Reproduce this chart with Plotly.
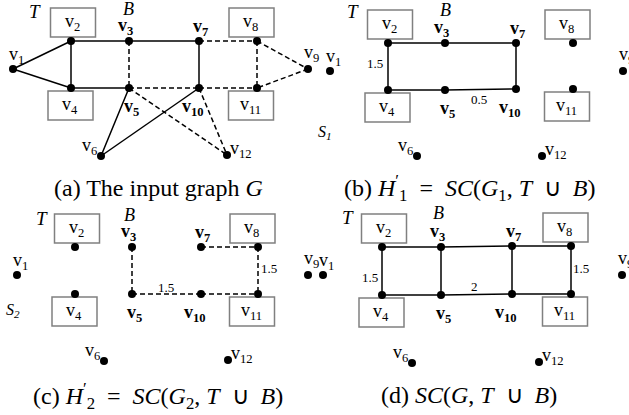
import plotly.graph_objects as go

# ---------------- data ----------------
NODES = ['v1', 'v2', 'v3', 'v4', 'v5', 'v6', 'v7', 'v8', 'v9', 'v10', 'v11', 'v12']
BOLD_NODES = ['v3', 'v5', 'v7', 'v10']
BOXED_TOP = ['v2', 'v8']
BOXED_BOTTOM = ['v4', 'v11']

# (a) input graph G
A_X = [13, 71, 129, 71, 129, 101, 199, 257, 308, 199, 257, 227]
A_Y = [69, 41, 41, 88, 88, 156, 41, 41, 69, 88, 88, 155]
A_SOLID = [('v1', 'v2'), ('v1', 'v4'), ('v2', 'v3'), ('v3', 'v7'), ('v2', 'v4'),
           ('v4', 'v5'), ('v7', 'v10'), ('v5', 'v6'), ('v6', 'v10')]
A_DASHED = [('v3', 'v5'), ('v5', 'v10'), ('v10', 'v11'), ('v7', 'v8'), ('v8', 'v11'),
            ('v8', 'v9'), ('v9', 'v11'), ('v5', 'v12'), ('v10', 'v12')]
A_WEIGHTS = []

# (b) H'_1
B_X = [330, 388, 445, 388, 445, 417, 516, 573, 623, 516, 573, 542]
B_Y = [71, 43, 43, 90, 90, 156, 43, 43, 71, 89, 89, 156]
B_SOLID = [('v2', 'v3'), ('v3', 'v7'), ('v2', 'v4'), ('v4', 'v5'), ('v5', 'v10'), ('v7', 'v10')]
B_DASHED = []
B_WEIGHTS = [('v2', 'v4', '1.5'), ('v5', 'v10', '0.5')]

# (c) H'_2
C_X = [17, 75, 132, 75, 132, 104, 201, 258, 308, 201, 258, 228]
C_Y = [275, 247, 247, 294, 294, 361, 247, 247, 275, 294, 294, 360]
C_SOLID = []
C_DASHED = [('v3', 'v5'), ('v5', 'v10'), ('v10', 'v11'), ('v7', 'v8'), ('v8', 'v11')]
C_WEIGHTS = [('v5', 'v10', '1.5'), ('v8', 'v11', '1.5')]

# (d) SC(G, T u B)
D_X = [323, 382, 441, 382, 441, 412, 512, 571, 622, 512, 571, 539]
D_Y = [275, 247, 247, 295, 295, 363, 246, 246, 275, 294, 294, 362]
D_SOLID = [('v2', 'v3'), ('v3', 'v7'), ('v7', 'v8'), ('v2', 'v4'), ('v3', 'v5'),
           ('v7', 'v10'), ('v8', 'v11'), ('v4', 'v5'), ('v5', 'v10'), ('v10', 'v11')]
D_DASHED = []
D_WEIGHTS = [('v2', 'v4', '1.5'), ('v5', 'v10', '2'), ('v8', 'v11', '1.5')]

EN = "\u2002"
TH = "\u2009"
CAPTIONS = [
    "(a) The input graph <i>G</i>",
    "(b) <i>H</i><sup>′</sup><sub>1</sub>" + EN + "=" + EN + "<i>SC</i>(<i>G</i><sub>1</sub>, <i>T</i>" + EN + "∪" + TH + " <i>B</i>)",
    "(c) <i>H</i><sup>′</sup><sub>2</sub>" + EN + "=" + EN + "<i>SC</i>(<i>G</i><sub>2</sub>, <i>T</i>" + EN + "∪" + TH + " <i>B</i>)",
    "(d) <i>SC</i>(<i>G</i>, <i>T</i>" + EN + "∪" + TH + " <i>B</i>)",
]
SET_LABELS = ["S<sub>1</sub>", "S<sub>2</sub>"]

# ---------------- styles / layout ----------------
W, H = 629, 415
FONT = "Liberation Serif, Times New Roman, serif"
LABEL_SIZE = 18
EDGE_W = 1.5
BOX_COLOR = "rgb(128,128,128)"

# label offsets (dx, dy) relative to node for unboxed nodes
LABEL_OFF = {'v1': (3, -14), 'v3': (-4, -15), 'v7': (1, -14), 'v9': (3, -16),
             'v5': (2, 19), 'v10': (-6, 19), 'v6': (-12, -10), 'v12': (14, -6)}
BOX_W, BOX_H = 45, 29
BOX_DX = {'v2': 2, 'v8': -5.5, 'v4': -0.5, 'v11': -6}

PANELS = [
    dict(x=A_X, y=A_Y, solid=A_SOLID, dashed=A_DASHED, weights=A_WEIGHTS,
         woff=[], T=(35, 11), B=(128, 9), S=None, cap=(158, 188)),
    dict(x=B_X, y=B_Y, solid=B_SOLID, dashed=B_DASHED, weights=B_WEIGHTS,
         woff=[(-13, -3), (-2, 10)], T=(353, 11), B=(445, 10), S=(325, 132), cap=(470, 188)),
    dict(x=C_X, y=C_Y, solid=C_SOLID, dashed=C_DASHED, weights=C_WEIGHTS,
         woff=[(-1, -7), (11, -2)], T=(42, 218), B=(129, 215), S=(13, 310), cap=(158, 396)),
    dict(x=D_X, y=D_Y, solid=D_SOLID, dashed=D_DASHED, weights=D_WEIGHTS,
         woff=[(-12, 6), (-2, -8), (10, -2)], T=(348, 217), B=(438, 213), S=None, cap=(469, 395)),
]

fig = go.Figure()
shapes = []
annotations = []


def ix(n):
    return NODES.index(n)


def node_text(n):
    t = "v<sub>%s</sub>" % n[1:]
    if n in BOLD_NODES:
        t = "<b>%s</b>" % t
    return t


def add_ann(x, y, text, size, **kw):
    annotations.append(dict(x=x, y=y, xref='x', yref='y', text=text, showarrow=False,
                            font=dict(family=FONT, size=size, color='black'),
                            xanchor='center', yanchor='middle', **kw))


for pi, p in enumerate(PANELS):
    xs, ys = p['x'], p['y']
    for edges, dash in ((p['solid'], 'solid'), (p['dashed'], '5px,3px')):
        if not edges:
            continue
        ex, ey = [], []
        for a, b in edges:
            ex += [xs[ix(a)], xs[ix(b)], None]
            ey += [ys[ix(a)], ys[ix(b)], None]
        fig.add_trace(go.Scatter(x=ex, y=ey, mode='lines',
                                 line=dict(color='black', width=EDGE_W, dash=dash),
                                 hoverinfo='skip', showlegend=False))
    fig.add_trace(go.Scatter(x=xs, y=ys, mode='markers',
                             marker=dict(size=8, color='black'),
                             hoverinfo='skip', showlegend=False))
    # node labels / boxes
    for n in NODES:
        x0, y0 = xs[ix(n)], ys[ix(n)]
        if n in BOXED_TOP or n in BOXED_BOTTOM:
            cx = x0 + BOX_DX[n]
            if n in BOXED_TOP:
                y1, y2 = y0 - 4 - BOX_H, y0 - 4
            else:
                y1, y2 = y0 + 3, y0 + 3 + BOX_H
            shapes.append(dict(type='rect', xref='x', yref='y', x0=cx - BOX_W / 2, x1=cx + BOX_W / 2,
                               y0=y1, y1=y2, line=dict(color=BOX_COLOR, width=1.5),
                               fillcolor='rgba(0,0,0,0)', layer='below'))
            add_ann(cx - 1, (y1 + y2) / 2, node_text(n), LABEL_SIZE)
        else:
            dx, dy = LABEL_OFF[n]
            add_ann(x0 + dx, y0 + dy, node_text(n), LABEL_SIZE)
    # weights
    for (a, b, w), (dx, dy) in zip(p['weights'], p['woff']):
        mx = (xs[ix(a)] + xs[ix(b)]) / 2
        my = (ys[ix(a)] + ys[ix(b)]) / 2
        add_ann(mx + dx, my + dy, w, 13)
    add_ann(p['T'][0], p['T'][1], "<i>T</i>", 19)
    add_ann(p['B'][0], p['B'][1], "<i>B</i>", 18)
    if p['S'] is not None:
        add_ann(p['S'][0], p['S'][1], "<i>%s</i>" % SET_LABELS[0 if pi == 1 else 1], 16)
    add_ann(p['cap'][0], p['cap'][1], CAPTIONS[pi], 24)

fig.update_layout(
    width=W, height=H, margin=dict(l=0, r=0, t=0, b=0),
    paper_bgcolor='white', plot_bgcolor='white',
    xaxis=dict(range=[0, W], visible=False, fixedrange=True),
    yaxis=dict(range=[H, 0], visible=False, fixedrange=True),
    shapes=shapes, annotations=annotations, showlegend=False,
)
fig.write_html("out.html", config={'displayModeBar': False},
               post_script="document.body.style.margin='0px';")
